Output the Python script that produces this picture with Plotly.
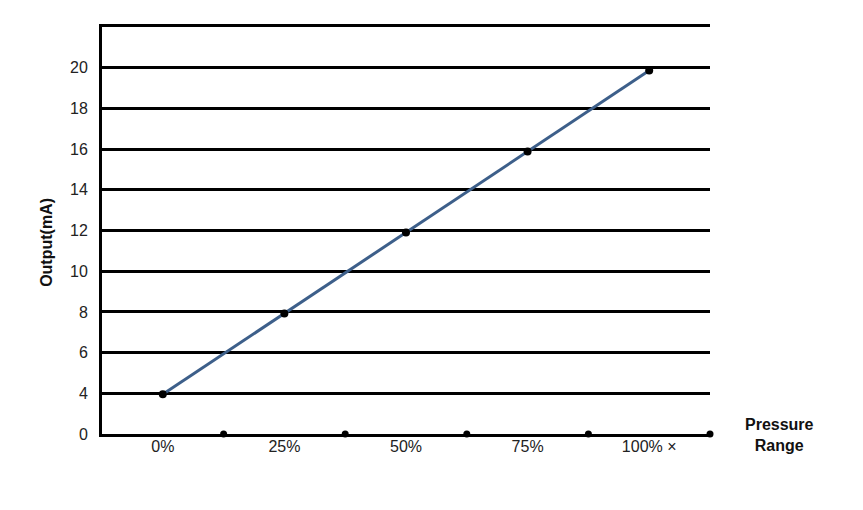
import plotly.graph_objects as go

categories = ["0%", "25%", "50%", "75%", "100% ×"]
output_ma = [3.95, 7.92, 11.9, 15.88, 19.86]
y_tick_values = [2, 4, 6, 8, 10, 12, 14, 16, 18, 20]
y_tick_labels = ["0", "4", "6", "8", "10", "12", "14", "16", "18", "20"]
x_positions = [0, 1, 2, 3, 4]
divider_positions = [0.5, 1.5, 2.5, 3.5, 4.5]

fig = go.Figure()
fig.add_trace(go.Scatter(
    x=x_positions, y=output_ma, mode="lines+markers",
    line=dict(color="#3d5f8a", width=3),
    marker=dict(color="black", size=8),
    cliponaxis=False, showlegend=False))
fig.add_trace(go.Scatter(
    x=divider_positions, y=[2] * len(divider_positions), mode="markers",
    marker=dict(color="black", size=7),
    cliponaxis=False, showlegend=False))

font = dict(family="Liberation Sans, Arial, sans-serif", size=16, color="#222222")
bold = dict(family="Liberation Sans, Arial, sans-serif", size=16, color="#111111")
fig.update_layout(
    width=863, height=510,
    margin=dict(l=94, r=161, t=19, b=84),
    plot_bgcolor="white", paper_bgcolor="white",
    font=font,
    xaxis=dict(range=[-0.5, 4.5], tickvals=x_positions, ticktext=categories,
               showgrid=False, zeroline=False, showline=True, mirror=True,
               linecolor="black", linewidth=3, ticks="", ticklen=0,
               tickfont=font, ticklabelstandoff=-4),
    yaxis=dict(range=[2, 22], tickvals=y_tick_values, ticktext=y_tick_labels,
               showgrid=True, gridcolor="black", gridwidth=3, zeroline=False,
               showline=True, linecolor="black", linewidth=3, ticks="",
               ticklen=0, tickfont=font, ticklabelstandoff=8),
    annotations=[
        dict(text="<b>Output(mA)</b>", xref="paper", yref="paper",
             x=-0.0905, y=0.472, textangle=-90, showarrow=False,
             xanchor="center", yanchor="middle", font=bold),
        dict(text="<b>Pressure<br>Range</b>", xref="paper", yref="paper",
             x=1.115, y=-0.002, showarrow=False, align="center",
             xanchor="center", yanchor="middle", font=bold),
    ],
)
fig.write_html("out.html")
